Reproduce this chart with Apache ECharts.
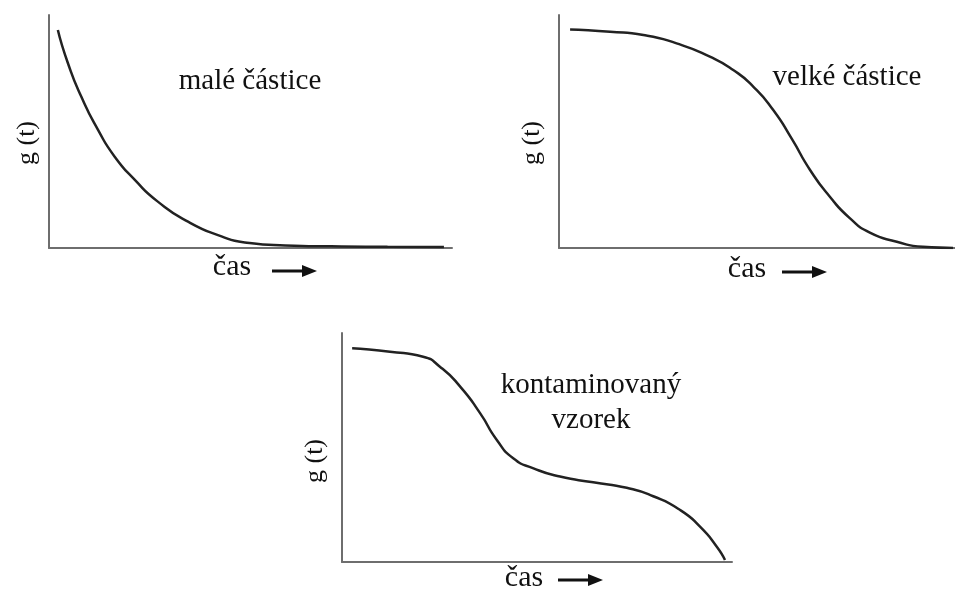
<!DOCTYPE html>
<html>
<head>
<meta charset="utf-8">
<script src="https://cdn.jsdelivr.net/npm/echarts@6/dist/echarts.min.js"></script>
<style>
  html, body { margin: 0; padding: 0; background: #fff; }
  #main { width: 955px; height: 598px; }
</style>
</head>
<body>
<div id="main"></div>
<script>
// malé částice – rychlý exponenciální pokles
const smallX = [2.2, 4.7, 8.0, 12.2, 16.3, 21.3, 27.0, 34.5, 42.8, 48.6, 58.6, 70, 84, 98];
const smallY = [93.6, 79.3, 65.0, 50.6, 39.2, 29.2, 19.9, 11.3, 5.0, 2.4, 1.1, 0.7, 0.5, 0.4];

// velké částice – pomalý pokles
const bigX = [2.8, 12.9, 21.3, 29.7, 38.1, 44.0, 49.1, 54.1, 58.8, 63.4, 68.4, 73.5, 78.5, 85.3, 91.9, 99.5];
const bigY = [93.8, 92.8, 91.4, 87.8, 82.1, 76.4, 69.2, 59.2, 46.8, 33.5, 22.0, 12.7, 6.6, 2.7, 0.5, 0];

// kontaminovaný vzorek – dva stupně
const contX = [2.6, 12.3, 20.8, 25.1, 30.3, 35.4, 39.7, 43.9, 49.1, 55.9, 64.4, 73.0, 79.8, 86.7, 91.8, 96.1, 98.2];
const contY = [93.3, 91.8, 89.6, 85.3, 76.6, 65.0, 53.3, 45.3, 40.9, 37.3, 34.8, 32.4, 28.7, 22.7, 15.4, 6.7, 0.9];

const labels = ['malé částice', 'velké částice', 'kontaminovaný\nvzorek'];
const xName = 'čas';
const yName = 'g (t)';

const font = '"Liberation Serif", "Times New Roman", serif';
const axisColor = '#6e6e6e';
const lineColor = '#222';

const zip = (xs, ys) => xs.map((x, i) => [x, ys[i]]);

const chart = echarts.init(document.getElementById('main'), null, { renderer: 'canvas' });

const grids = [
  { left: 49, top: 15, width: 403, height: 233 },
  { left: 559, top: 15, width: 396, height: 233 },
  { left: 342, top: 333, width: 390, height: 229 }
];

function axisFor(i) {
  return {
    type: 'value', gridIndex: i, min: 0, max: 100,
    axisLine: { show: true, lineStyle: { color: axisColor, width: 2 } },
    axisTick: { show: false }, axisLabel: { show: false }, splitLine: { show: false }
  };
}
function curve(i, data) {
  return {
    type: 'line', xAxisIndex: i, yAxisIndex: i, data: data,
    smooth: 0.6, symbol: 'none',
    lineStyle: { color: lineColor, width: 2.5 }, animation: false
  };
}

const textStyle = { fill: '#111', font: '29px ' + font, textAlign: 'center', textVerticalAlign: 'middle' };
function txt(x, y, text, rot, extra) {
  return { type: 'text', x: x, y: y, rotation: rot || 0, style: Object.assign({}, textStyle, { text: text }, extra || {}) };
}
// šipka u popisu osy x
function arrow(x, y) {
  return {
    type: 'group', x: x, y: y,
    children: [
      { type: 'line', shape: { x1: 0, y1: 0, x2: 34, y2: 0 }, style: { stroke: '#111', lineWidth: 3 } },
      { type: 'polygon', shape: { points: [[30, -6], [45, 0], [30, 6]] }, style: { fill: '#111' } }
    ]
  };
}

chart.setOption({
  backgroundColor: '#fff',
  grid: grids,
  xAxis: [axisFor(0), axisFor(1), axisFor(2)],
  yAxis: [axisFor(0), axisFor(1), axisFor(2)],
  series: [
    curve(0, zip(smallX, smallY)),
    curve(1, zip(bigX, bigY)),
    curve(2, zip(contX, contY))
  ],
  graphic: [
    txt(250, 81, labels[0]),
    txt(847, 77, labels[1]),
    txt(591, 403, labels[2], 0, { lineHeight: 35 }),
    txt(232, 267, xName, 0, { font: '30px ' + font }), arrow(272, 271),
    txt(747, 269, xName, 0, { font: '30px ' + font }), arrow(782, 272),
    txt(524, 578, xName, 0, { font: '30px ' + font }), arrow(558, 580),
    txt(27, 143, yName, Math.PI / 2, { font: '26px ' + font }),
    txt(532, 143, yName, Math.PI / 2, { font: '26px ' + font }),
    txt(315, 461, yName, Math.PI / 2, { font: '26px ' + font })
  ]
});
</script>
</body>
</html>
